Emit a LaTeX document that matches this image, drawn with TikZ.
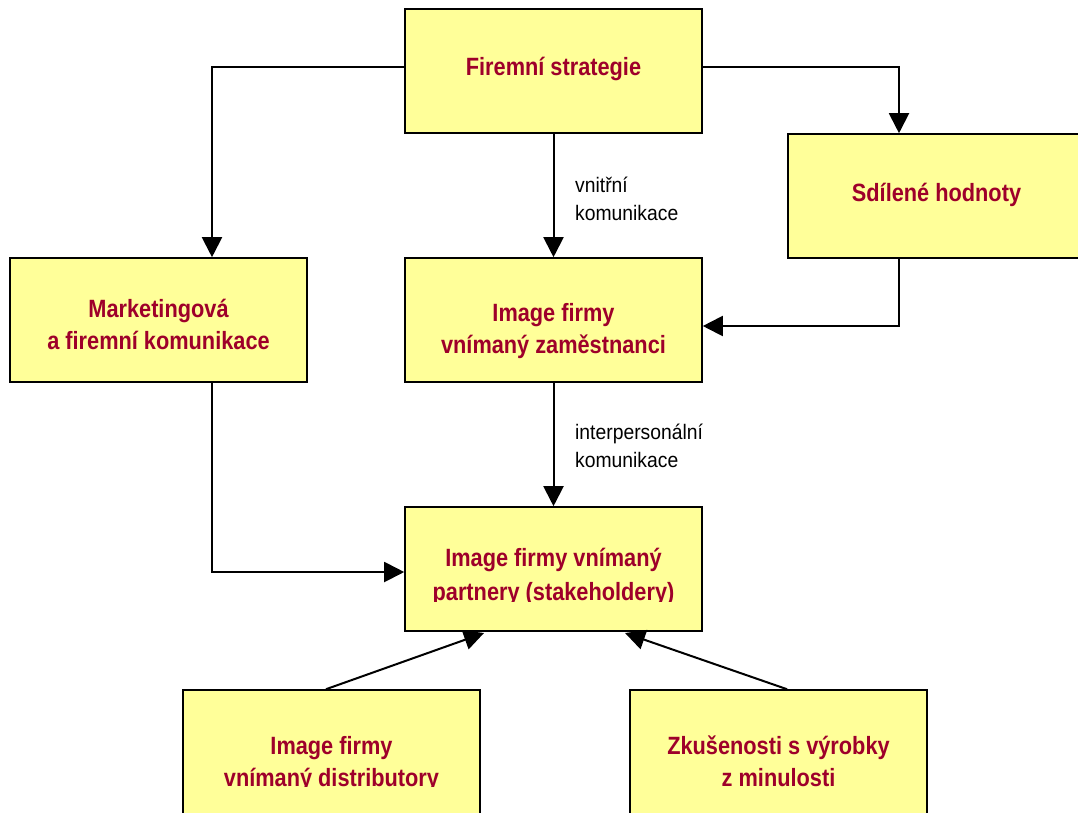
\documentclass[tikz,border=0pt]{standalone}
\usepackage{fontspec}
\setmainfont{Liberation Sans}
\newfontfamily\boxfont{Liberation Sans}[FakeStretch=0.87]
\newfontfamily\labelfont{Liberation Sans}[FakeStretch=0.92]
\usetikzlibrary{arrows.meta}
\definecolor{boxfill}{RGB}{255,255,153}
\definecolor{boxtextcol}{RGB}{158,0,42}
\tikzset{
  x=1pt, y=-1pt,
  box/.style={draw=black, line width=1.6pt, fill=boxfill,
    minimum width=297pt, minimum height=124pt, inner sep=0pt},
  boxtext/.style={text=boxtextcol, align=center, inner sep=0pt,
    font=\boxfont\bfseries\fontsize{25}{32}\selectfont},
  note/.style={align=left, anchor=west, inner sep=0pt,
    font=\labelfont\fontsize{21}{28}\selectfont},
  conn/.style={draw=black, line width=2pt},
  arr/.style={conn, -{Triangle[length=20pt,width=20pt]}}
}
\begin{document}
\begin{tikzpicture}
\clip (0,0) rectangle (1078,812);

% boxes
\node[box] (fs)  at (553.5,71)  {};
\node[box] (sh)  at (936.5,196) {};
\node[box] (mk)  at (158.5,320) {};
\node[box] (zam) at (553.5,320) {};
\node[box] (par) at (553.5,569) {};
\node[box, minimum height=150pt] (dis) at (331.5,765) {};
\node[box, minimum height=150pt] (zk)  at (778.5,765) {};

% box texts
\node[boxtext] (fst)  at (553.5,69)  {Firemní strategie};
\node[boxtext] (sht)  at (936.5,195) {Sdílené hodnoty};
\node[boxtext] (mkt)  at (158.5,324.5) {Marketingová\\a firemní komunikace};
\node[boxtext] (zamt) at (553.5,331) {Image firmy\\vnímaný zaměstnanci};
% the text frames of these two boxes cut their last line at the baseline
\begin{scope}
  \clip (par.north west) rectangle (702,601);
  \node[boxtext] (part) at (553.5,577) {Image firmy vnímaný\\[2pt]partnery (stakeholdery)};
\end{scope}
\begin{scope}
  \clip (dis.north west) rectangle (480,786.5);
  \node[boxtext] (dist) at (331.5,764) {Image firmy\\vnímaný distributory};
\end{scope}
\node[boxtext] (zkt) at (778.5,761) {Zkušenosti s výrobky\\z minulosti};

% turning points
\coordinate (c1) at (212,67);
\coordinate (c2) at (899,67);
\coordinate (c3) at (899,326);
\coordinate (c4) at (212,572);

% connectors
\draw[arr] (fs.west |- c1) -- (c1) -- (c1 |- mk.north);
\draw[arr] (fs.east |- c2) -- (c2) -- (c2 |- sh.north);
\draw[arr] (fs.south) -- (zam.north);
\draw[arr] (c3 |- sh.south) -- (c3) -- (zam.east |- c3);
\draw[arr] (zam.south) -- (par.north);
\draw[arr] (c4 |- mk.south) -- (c4) -- (par.west |- c4);
\draw[arr] (dis.north -| 326,0) -- (484,633);
\draw[arr] (zk.north -| 787,0) -- (625,633);

% connector labels
\node[note] (l1) at (575,199) {vnitřní\\komunikace};
\node[note] (l2) at (575,446) {interpersonální\\komunikace};
\end{tikzpicture}
\end{document}
